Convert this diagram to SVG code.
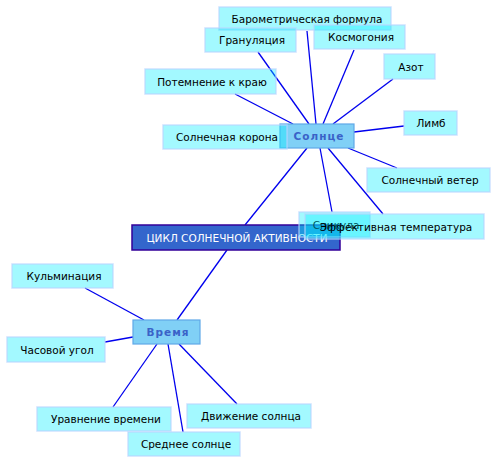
<svg xmlns="http://www.w3.org/2000/svg" width="496" height="463" viewBox="0 0 496 463">
<style>
.leaf rect{fill:#00eeff;fill-opacity:0.36;stroke:#b8d4ff;stroke-opacity:0.7;stroke-width:1.5}
.leaf text{font-family:"DejaVu Sans",sans-serif;font-size:10.5px;fill:#000;text-anchor:middle}
.mid rect{fill:#80d0f6;stroke:#5fa8e8;stroke-width:1.2}
.mid text{font-family:"DejaVu Sans",sans-serif;font-size:10.5px;font-weight:bold;fill:#3a62c8;text-anchor:middle;letter-spacing:1px}
.root rect{fill:#3366cc;stroke:#330099;stroke-width:1.5}
.root text{font-family:"DejaVu Sans",sans-serif;font-size:10.5px;fill:#fff;text-anchor:middle}
#connectors line{stroke:#0000ee;stroke-width:1.3}
</style>
<g id="connectors">
<line x1="307" y1="31" x2="316" y2="124"/>
<line x1="258" y1="52" x2="309" y2="124"/>
<line x1="354" y1="50" x2="323" y2="124"/>
<line x1="393" y1="79" x2="333" y2="124"/>
<line x1="235" y1="94" x2="293" y2="124"/>
<line x1="404" y1="126" x2="354" y2="132"/>
<line x1="348" y1="148" x2="397" y2="168"/>
<line x1="320" y1="148" x2="332" y2="212"/>
<line x1="328" y1="148" x2="383" y2="214"/>
<line x1="307" y1="148" x2="245" y2="225"/>
<line x1="227" y1="250" x2="177" y2="320"/>
<line x1="85" y1="288" x2="144" y2="320"/>
<line x1="105" y1="342" x2="133" y2="337"/>
<line x1="113" y1="407" x2="157" y2="344"/>
<line x1="183" y1="432" x2="168" y2="344"/>
<line x1="237" y1="404" x2="179" y2="344"/>
</g>
<g id="n-barom" class="leaf"><rect x="219" y="7" width="172" height="23"/><text x="307" y="22.5">Барометрическая формула</text></g>
<g id="n-gran" class="leaf"><rect x="205" y="28" width="91" height="24"/><text x="252" y="44">Грануляция</text></g>
<g id="n-kosm" class="leaf"><rect x="314" y="25" width="91" height="24"/><text x="361" y="41">Космогония</text></g>
<g id="n-azot" class="leaf"><rect x="384" y="54" width="51" height="25"/><text x="411" y="70.5">Азот</text></g>
<g id="n-potem" class="leaf"><rect x="145" y="69" width="131" height="25"/><text x="212" y="85.5">Потемнение к краю</text></g>
<g id="n-limb" class="leaf"><rect x="404" y="111" width="53" height="24"/><text x="431" y="127">Лимб</text></g>
<g id="n-solnce" class="mid"><rect x="280" y="124" width="74" height="24"/><text x="319" y="140">Солнце</text></g>
<g id="n-korona" class="leaf"><rect x="163" y="125" width="124" height="24"/><text x="227" y="141">Солнечная корона</text></g>
<g id="n-veter" class="leaf"><rect x="367" y="168" width="123" height="24"/><text x="430" y="184">Солнечный ветер</text></g>
<g id="n-cikl" class="root"><rect x="132" y="225" width="208" height="25"/><text x="237" y="241.5">ЦИКЛ СОЛНЕЧНОЙ АКТИВНОСТИ</text></g>
<g id="n-spikula" class="leaf"><rect x="299" y="212" width="71" height="25"/><text x="336" y="228.5">Спикула</text></g>
<g id="n-effekt" class="leaf"><rect x="305" y="214" width="179" height="25"/><text x="396" y="230.5">Эффективная температура</text></g>
<g id="n-kulm" class="leaf"><rect x="12" y="264" width="101" height="24"/><text x="64" y="280">Кульминация</text></g>
<g id="n-vremya" class="mid"><rect x="133" y="320" width="67" height="24"/><text x="168" y="336">Время</text></g>
<g id="n-chas" class="leaf"><rect x="7" y="337" width="98" height="25"/><text x="57" y="353.5">Часовой угол</text></g>
<g id="n-uravn" class="leaf"><rect x="37" y="407" width="134" height="24"/><text x="106" y="423">Уравнение времени</text></g>
<g id="n-dvizh" class="leaf"><rect x="187" y="404" width="124" height="24"/><text x="251" y="420">Движение солнца</text></g>
<g id="n-sredn" class="leaf"><rect x="128" y="432" width="112" height="24"/><text x="186" y="448">Среднее солнце</text></g>
</svg>
